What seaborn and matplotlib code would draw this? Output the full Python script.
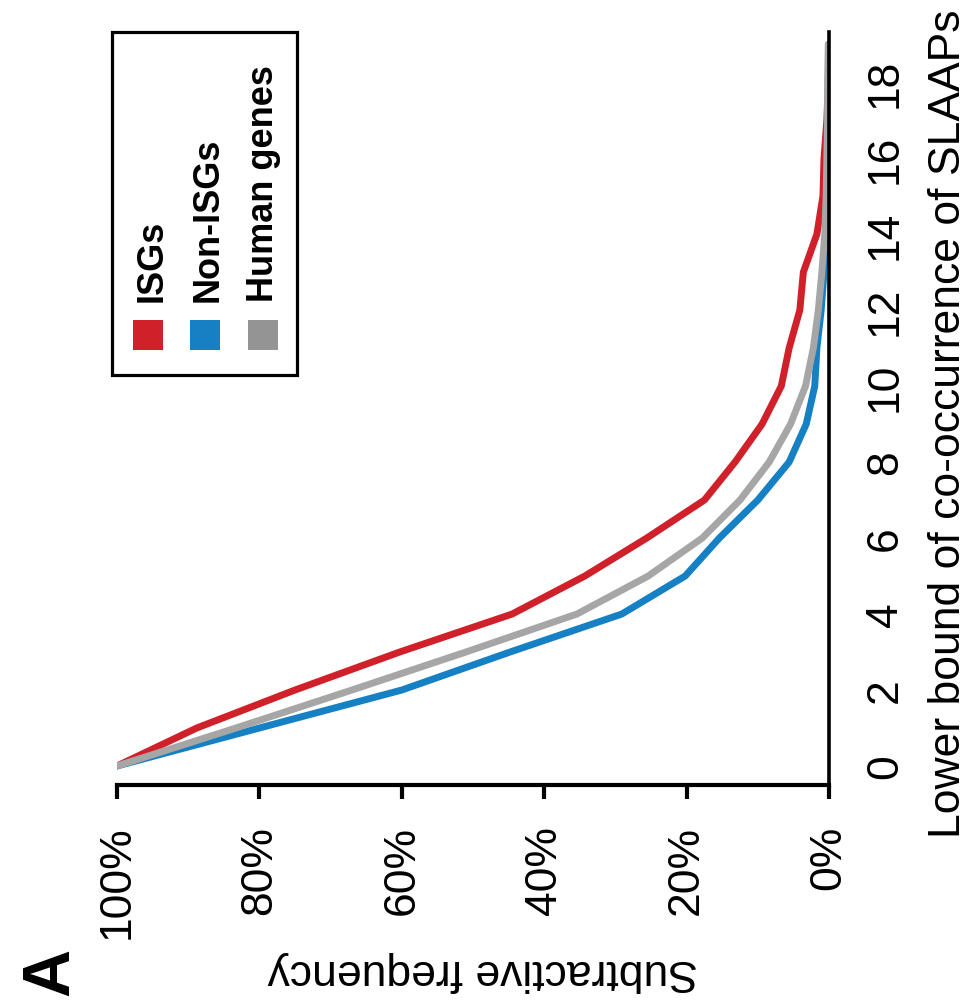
import matplotlib
matplotlib.use("Agg")
import matplotlib.pyplot as plt
from matplotlib.patches import Rectangle
import seaborn as sns
import pandas as pd

# ---------------- data ----------------
counts = list(range(20))
isgs = [100, 88.8, 75.0, 60.3, 44.5, 34.3, 25.6, 17.5, 13.2, 9.4,
        6.7, 5.6, 4.1, 3.6, 1.7, 0.85, 0.7, 0.3, 0.1, 0.0]
non_isgs = [100, 80.0, 60.0, 44.8, 29.1, 20.2, 15.4, 10.0, 5.6, 3.2,
            2.0, 1.7, 1.1, 0.7, 0.4, 0.3, 0.2, 0.1, 0.1, 0.0]
human_genes = [100, 83.3, 67.0, 51.0, 35.4, 25.4, 17.8, 12.5, 8.4, 5.4,
               3.3, 2.2, 1.5, 1.0, 0.6, 0.4, 0.3, 0.2, 0.2, 0.1]
groups = ["ISGs", "Non-ISGs", "Human genes"]
line_colors = ["#d0202a", "#1580c3", "#a6a6a6"]
legend_colors = ["#d0202a", "#1580c3", "#949494"]
freq_ticks = [0, 20, 40, 60, 80, 100]
freq_labels = ["0%", "20%", "40%", "60%", "80%", "100%"]
count_ticks = [0, 2, 4, 6, 8, 10, 12, 14, 16, 18]
count_labels = [str(c) for c in count_ticks]

df = pd.concat([
    pd.DataFrame({"count": counts, "freq": vals, "group": g})
    for g, vals in zip(groups, [isgs, non_isgs, human_genes])
], ignore_index=True)

# ---------------- style ----------------
sns.set_style("white")
plt.rcParams["font.family"] = ["Liberation Sans", "DejaVu Sans"]
plt.rcParams["text.color"] = "black"
plt.rcParams["axes.labelcolor"] = "black"
plt.rcParams["xtick.color"] = "black"
plt.rcParams["ytick.color"] = "black"

W, H = 973, 1003
fig = plt.figure(figsize=(W / 100, H / 100), dpi=100)
fig.patch.set_facecolor("white")


def fx(px):
    return px / W


def fy(py):
    return 1 - py / H


ax = fig.add_axes([fx(117), fy(786), 712 / W, 753 / H])

sns.lineplot(data=df, x="freq", y="count", hue="group", hue_order=groups,
             palette=dict(zip(groups, line_colors)), estimator=None,
             sort=False, orient="y", linewidth=5.0, legend=False, ax=ax,
             solid_capstyle="round")

ax.set_xlim(100, 0)
ax.set_ylim(-0.5, 19.32)
ax.set_xticks(freq_ticks, freq_labels)
ax.set_yticks(count_ticks, count_labels)
ax.yaxis.tick_right()
ax.tick_params(axis="x", bottom=True, direction="out", length=10, width=3,
               pad=18.5, labelsize=32, labelrotation=90, color="black",
               labelcolor="black")
ax.tick_params(axis="y", length=0, pad=26, labelsize=32, labelrotation=90,
               labelcolor="black")
for lbl in ax.get_yticklabels():
    lbl.set_va("center")
    lbl.set_ha("left")
for lbl in ax.get_xticklabels():
    lbl.set_ha("center")
    lbl.set_va("top")

for s in ["top", "left"]:
    ax.spines[s].set_visible(False)
ax.spines["bottom"].set_linewidth(3)
ax.spines["right"].set_linewidth(2.6)
ax.spines["bottom"].set_color("black")
ax.spines["right"].set_color("black")
ax.grid(False)

# axis labels (rotated chart)
ax.set_xlabel("Subtractive frequency", fontsize=32, rotation=180, color="black")
xl = ax.xaxis.label
xl.set_rotation_mode("anchor")
xl.set_ha("left")
xl.set_va("baseline")
ax.xaxis.set_label_coords((698 - 117) / 712, (786 - 960) / 753)

ax.yaxis.set_label_position("right")
ax.set_ylabel("Lower bound of co-occurrence of SLAAPs", fontsize=32,
              rotation=90, color="black")
yl = ax.yaxis.label
yl.set_rotation_mode("anchor")
yl.set_ha("left")
yl.set_va("baseline")
ax.yaxis.set_label_coords((960 - 117) / 712, (786 - 838) / 753)

# panel letter
fig.text(fx(68), fy(996), "A", fontsize=48, fontweight="bold", rotation=90,
         rotation_mode="anchor", ha="left", va="baseline", color="black")

# legend (rotated)
fig.add_artist(Rectangle((fx(112), fy(376)), 185 / W, 343 / H,
                         transform=fig.transFigure, fill=False,
                         lw=2.3, ec="black"))
sq_x = [133, 190, 248]
txt_base = [162, 218, 273]
for g, c, sx, bx in zip(groups, legend_colors, sq_x, txt_base):
    fig.add_artist(Rectangle((fx(sx), fy(351)), 30 / W, 30 / H,
                             transform=fig.transFigure, fc=c, ec="none"))
    fig.text(fx(bx), fy(302), g, fontsize=26, fontweight="bold", rotation=90,
             rotation_mode="anchor", ha="left", va="baseline", color="black")

fig.savefig("out.png", dpi=100, facecolor="white")
